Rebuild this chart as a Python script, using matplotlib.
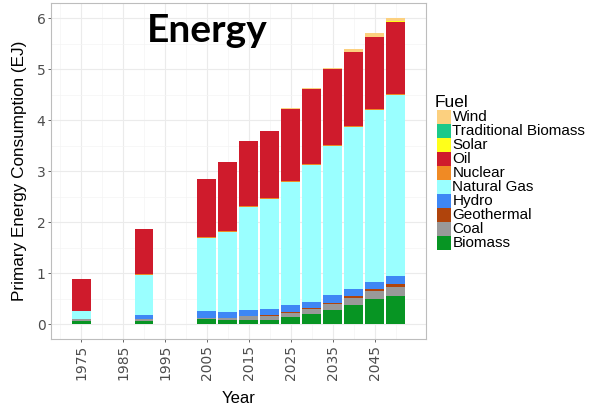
import numpy as np
import matplotlib
matplotlib.use("Agg")
import matplotlib.pyplot as plt
from matplotlib.patches import Rectangle

plt.rcParams["font.family"] = ["Liberation Sans", "DejaVu Sans"]

# данные, EJ (читаются с картинки)
years = [1975, 1990, 2005, 2010, 2015, 2020, 2025, 2030, 2035, 2040, 2045, 2050]
fuels = ["Biomass", "Coal", "Geothermal", "Hydro", "Natural Gas", "Nuclear",
         "Oil", "Solar", "Traditional Biomass", "Wind"]
biomass = [0.065, 0.065, 0.09, 0.08, 0.085, 0.085, 0.14, 0.20, 0.275, 0.373, 0.485, 0.55]
coal = [0.035, 0.035, 0.035, 0.04, 0.07, 0.075, 0.08, 0.095, 0.115, 0.143, 0.16, 0.18]
geothermal = [0.0, 0.0, 0.0, 0.0, 0.005, 0.01, 0.015, 0.02, 0.03, 0.034, 0.035, 0.05]
hydro = [0.0, 0.076, 0.125, 0.12, 0.115, 0.12, 0.13, 0.125, 0.15, 0.14, 0.15, 0.16]
natural_gas = [0.155, 0.784, 1.44, 1.57, 2.015, 2.157, 2.425, 2.69, 2.93, 3.18, 3.37, 3.55]
nuclear = [0.0, 0.02, 0.02, 0.02, 0.02, 0.02, 0.02, 0.02, 0.02, 0.02, 0.02, 0.03]
oil = [0.62, 0.877, 1.128, 1.34, 1.285, 1.315, 1.405, 1.47, 1.48, 1.44, 1.41, 1.40]
solar = [0.0, 0.0, 0.0, 0.0, 0.0, 0.0, 0.0, 0.0, 0.0, 0.0, 0.01, 0.03]
trad_biomass = [0.0] * 12
wind = [0.0, 0.0, 0.0, 0.0, 0.0, 0.005, 0.015, 0.02, 0.03, 0.06, 0.07, 0.05]

series = [biomass, coal, geothermal, hydro, natural_gas, nuclear, oil, solar, trad_biomass, wind]
colors = ["#079523", "#999999", "#B0440C", "#3E87F5", "#9AFFFF", "#F08A24",
          "#CF1B2C", "#FFFF1A", "#1CC98A", "#FCD07F"]

fig = plt.figure(figsize=(5.95, 4.11), dpi=100)
ax = fig.add_axes([51 / 595, 1 - 339.3 / 411, (425.7 - 51) / 595, (339.3 - 3) / 411])

x = np.array(years, dtype=float)
bottom = np.zeros(len(years))
for vals, c in zip(series, colors):
    v = np.array(vals)
    ax.bar(x, v, width=4.5, bottom=bottom, color=c, linewidth=0)
    bottom += v

ax.set_xlim(2012.5 - 44.7, 2012.5 + 44.7)
ax.set_ylim(-0.3, 6.3)
ax.set_xticks(range(1975, 2050, 10))
ax.set_xticks(range(1970, 2060, 10), minor=True)
ax.set_yticks(range(0, 7))
ax.set_yticks(np.arange(0.5, 6.5, 1.0), minor=True)
ax.grid(which="major", color="#EBEBEB", linewidth=0.8)
ax.grid(which="minor", color="#F4F4F4", linewidth=0.5)
ax.set_axisbelow(True)
for s in ax.spines.values():
    s.set_color("#BDBDBD")
    s.set_linewidth(0.8)
ax.tick_params(axis="both", which="major", labelsize=10, labelcolor="#4D4D4D",
               color="#4D4D4D", length=2.5, width=0.6, pad=1.5)
ax.tick_params(axis="both", which="minor", length=0)
ax.tick_params(axis="x", labelrotation=90)
for t in ax.get_xticklabels() + ax.get_yticklabels():
    t.set_family("DejaVu Sans")
ax.set_xlabel("Year", fontsize=12, labelpad=8)
ax.set_ylabel("Primary Energy Consumption (EJ)", fontsize=12.3, labelpad=7)

fig.text(207.5 / 595, 1 - 41.7 / 411, "Energy", fontsize=28, fontweight="bold",
         family=["Lato", "DejaVu Sans"], ha="center", va="baseline")

# легенда вручную (порядок ggplot: сверху вниз)
fig.text(435 / 595, 1 - 107 / 411, "Fuel", fontsize=12.5, va="baseline")
for i, (name, c) in enumerate(zip(fuels[::-1], colors[::-1])):
    yc = 116.7 + i * 14.0
    fig.patches.append(Rectangle((436.7 / 595, 1 - (yc + 7) / 411), 14 / 595, 14 / 411,
                                 transform=fig.transFigure, facecolor=c, edgecolor="none"))
    fig.text(452.5 / 595, 1 - yc / 411, name, fontsize=11, va="center")

fig.savefig("out.png", dpi=100)
